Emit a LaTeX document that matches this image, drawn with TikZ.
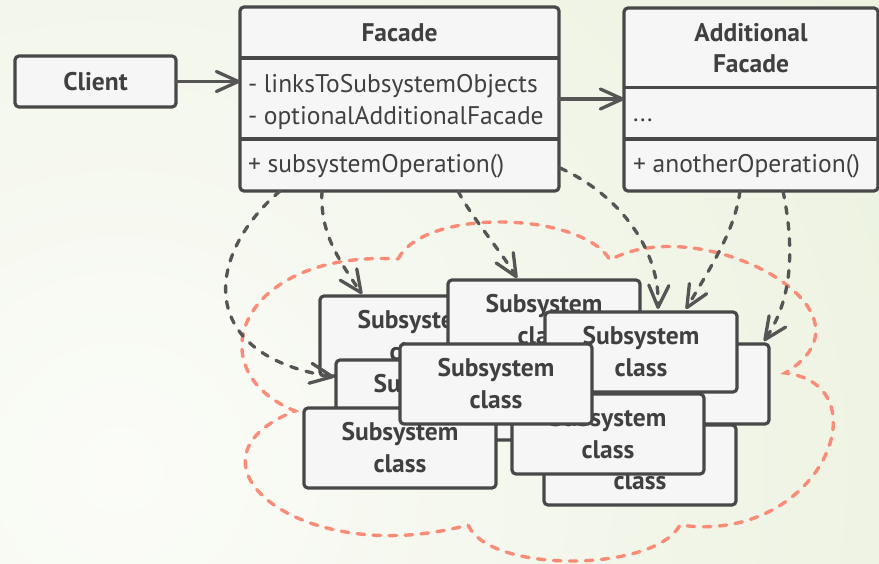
\documentclass[tikz,border=0pt]{standalone}
\usepackage{fontspec}
\setmainfont{PT Sans}
\usetikzlibrary{arrows.meta,calc}
\definecolor{ink}{HTML}{484848}
\definecolor{txt}{HTML}{404040}
\definecolor{boxfill}{HTML}{F6F6F6}
\definecolor{wire}{HTML}{555555}
\definecolor{salmon}{HTML}{FA8B76}
\definecolor{bgin}{HTML}{FBFCF8}
\definecolor{bgout}{HTML}{DCE7C6}

\begin{document}
\begin{tikzpicture}[x=1pt,y=-1pt,
  every node/.style={text=txt, inner sep=0pt, outer sep=0pt},
  umlbox/.style={draw=ink, fill=boxfill, line width=3.2pt, rounded corners=4pt, anchor=north west},
  divider/.style={draw=ink, line width=3.6pt},
  title/.style={font=\fontsize{25.5}{31}\selectfont\bfseries},
  member/.style={font=\fontsize{25.5}{30}\selectfont, anchor=base west},
  subbox/.style={umlbox, minimum width=192pt, minimum height=80pt, align=center,
    font=\fontsize{25.5}{32}\selectfont\bfseries},
  link/.style={draw=wire, line width=3.3pt, line cap=round,
    -{Straight Barb[length=22pt,width=20pt,round]}},
  uses/.style={link, dash pattern=on 7pt off 9pt},
  cloudline/.style={draw=salmon, line width=3.4pt, dash pattern=on 7.5pt off 8.5pt, line cap=round}
]
\useasboundingbox (0,0) rectangle (879,563);

% background wash
\begin{scope}
  \clip (0,0) rectangle (879,563);
  \shade[inner color=bgin, outer color=bgout] (120,470) circle (1800);
\end{scope}

% subsystem boundary (cloud)
\coordinate (k1) at (398,259);
\coordinate (k2) at (610,260);
\coordinate (k3) at (785,373);
\coordinate (k4) at (680,525);
\coordinate (k5) at (468,525);
\coordinate (k6) at (295,411);
\draw[cloudline] (k1) .. controls (425,207) and (582,212) .. (k2)
  .. controls (700,210) and (890,310) .. (k3)
  .. controls (885,385) and (820,545) .. (k4)
  .. controls (655,572) and (490,574) .. (k5)
  .. controls (300,570) and (170,460) .. (k6)
  .. controls (195,370) and (240,250) .. (k1);

% client
\node[umlbox, minimum width=161pt, minimum height=51pt, title] (client) at (15,56) {Client};

% facade class
\node[umlbox, minimum width=319pt, minimum height=184pt] (facade) at (240,7) {};
\coordinate (fcut1) at (0,58);
\coordinate (fcut2) at (0,139);
\draw[divider] (facade.west |- fcut1) -- (facade.east |- fcut1);
\draw[divider] (facade.west |- fcut2) -- (facade.east |- fcut2);
\node[title] (facadeName) at (399.5,32.5) {Facade};
\node[member] (fattrA) at (248,92.5) {- linksToSubsystemObjects};
\node[member] (fattrB) at (248,124.5) {- optionalAdditionalFacade};
\node[member] (fop) at (248,172.5) {+ subsystemOperation()};

% additional facade class
\node[umlbox, minimum width=254pt, minimum height=183pt] (addl) at (624,8) {};
\coordinate (acut1) at (0,87.5);
\coordinate (acut2) at (0,139);
\draw[divider] (addl.west |- acut1) -- (addl.east |- acut1);
\draw[divider] (addl.west |- acut2) -- (addl.east |- acut2);
\node[title, align=center] (addlName) at (751,48) {Additional\\Facade};
\node[member] (aattr) at (633,121.5) {...};
\node[member] (aop) at (633,172.5) {+ anotherOperation()};

% subsystem classes, back to front
\node[subbox] (subA) at (320,296) {Subsystem\\class};
\node[subbox] (subB) at (448,280) {Subsystem\\class};
\node[subbox] (subH) at (336,360) {Subsystem\\class};
\node[subbox] (subI) at (304,408) {Subsystem\\class};
\node[subbox] (subD) at (577,344) {Subsystem\\class};
\node[subbox] (subF) at (544,425) {Subsystem\\class};
\node[subbox] (subE) at (512,394) {Subsystem\\class};
\node[subbox] (subC) at (545,312) {Subsystem\\class};
\node[subbox] (subG) at (400,344) {Subsystem\\class};

% associations
\draw[link] (client.east) -- (client.east -| facade.west);
\draw[link] (facade.east) -- (facade.east -| addl.west);

% dependencies
\draw[uses] ($(facade.south west)+(40,0)$) .. controls +(-75,64) and +(-139,-22) .. ($(subH.north west)+(-2,17)$);
\draw[uses] ($(facade.south west)+(82,0)$) .. controls +(-2,39) and +(-27,-39) .. ($(subA.north west)+(42,-2)$);
\draw[uses] ($(facade.south west)+(218,0)$) .. controls +(12,24) and +(-17,-28) .. ($(subB.north west)+(69,-2)$);
\draw[uses] ($(facade.south east)+(1,-23)$) .. controls +(60,27) and +(2,-59) .. ($(subC.north west)+(113,-3)$);
\draw[uses] ($(addl.south west)+(116,0)$) .. controls +(-5,39) and +(26,-44) .. ($(subC.north west)+(141,-3)$);
\draw[uses] ($(addl.south west)+(159,0)$) .. controls +(12,59) and +(28,-41) .. ($(subD.north east)+(-5,-3)$);
\end{tikzpicture}
\end{document}
